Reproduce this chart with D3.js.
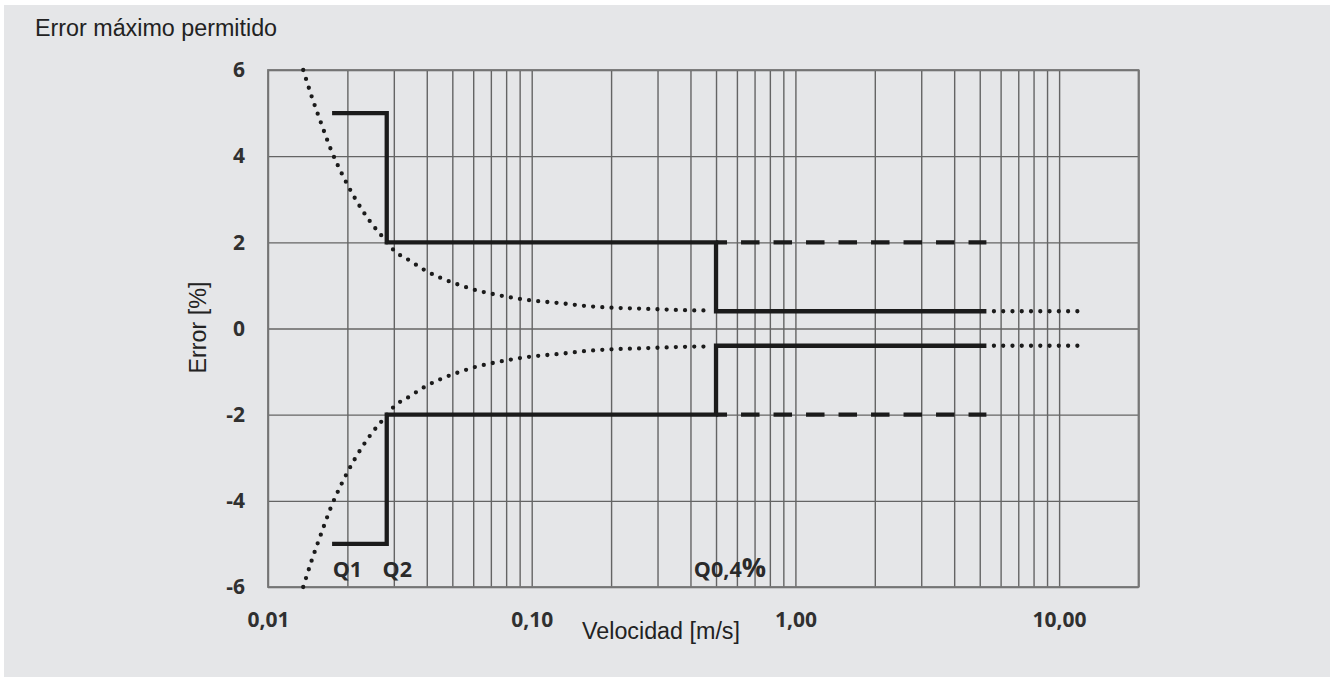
<!DOCTYPE html>
<html>
<head>
<meta charset="utf-8">
<script src="https://cdn.jsdelivr.net/npm/d3@7"></script>
<style>
  html, body { margin: 0; padding: 0; background: #ffffff; }
  svg { display: block; }
</style>
</head>
<body>
<div id="chart-area"></div>
<script>
// Data
const xTickValues = [0.01, 0.1, 1, 10]
const xTickLabels = ['0,01', '0,10', '1,00', '10,00']
const yTickValues = [-6, -4, -2, 0, 2, 4, 6]
const yTickLabels = ['-6', '-4', '-2', '0', '2', '4', '6']

// Dotted limit curve (velocity m/s, error %)
const curveV = [0.0136, 0.01465, 0.01589, 0.0173, 0.01914, 0.02138, 0.02454, 0.02725, 0.03007, 0.03459,
	0.03968, 0.04573, 0.05321, 0.06227, 0.07269, 0.0853, 0.1002, 0.1275, 0.1624, 0.2069, 0.2642, 0.3364, 0.4285, 0.4634]
const curveUpper = [6.0, 5.38, 4.77, 4.16, 3.57, 3.02, 2.46, 2.12, 1.81, 1.57,
	1.34, 1.16, 1.01, 0.88, 0.79, 0.71, 0.65, 0.59, 0.52, 0.48, 0.46, 0.435, 0.42, 0.42]
const curveLower = [-6.0, -5.38, -4.77, -4.16, -3.57, -3.02, -2.46, -2.12, -1.81, -1.57,
	-1.34, -1.16, -1.01, -0.88, -0.79, -0.71, -0.65, -0.59, -0.52, -0.48, -0.46, -0.435, -0.42, -0.42]

// Solid step limits
const stepV = [0.0175, 0.0282, 0.0282, 0.5, 0.5, 5.3]
const stepUpper = [5, 5, 2, 2, 0.4, 0.4]
const stepLower = [-5, -5, -2, -2, -0.4, -0.4]

// Dashed extension at +-2 %
const dashV = [0.5, 5.3]
const dashUpper = [2, 2]
const dashLower = [-2, -2]

// Dotted tail at +-0.4 %
const tailV = [5.66, 11.85]
const tailUpper = [0.4, 0.4]
const tailLower = [-0.4, -0.4]

// Flow point labels
const qLabels = ['Q1', 'Q2', 'Q0,4']
const qLabelV = [0.0176, 0.0272, 0.412]

const canvas = { width: 1330, height: 679 }
const plot = { left: 268, right: 1138.5, top: 70, bottom: 587 }
const boldFont = "'Open Sans', sans-serif"
const plainFont = "'Liberation Sans', Arial, sans-serif"
const ink = '#1b1b1b'

let svg = d3.select('#chart-area')
	.append('svg')
		.attr('width', canvas.width)
		.attr('height', canvas.height)

// grey panel
svg.append('rect')
	.attr('x', 4)
	.attr('y', 5)
	.attr('width', canvas.width - 4)
	.attr('height', 672)
	.attr('fill', '#e5e6e8')

// Scales
let x = d3.scaleLog()
	.domain([0.01, 20])
	.range([plot.left, plot.right])
let y = d3.scaleLinear()
	.domain([-6, 6])
	.range([plot.bottom, plot.top])

const plotH = plot.bottom - plot.top
const plotW = plot.right - plot.left

// Grid
let xGrid = svg.append('g')
	.attr('transform', `translate(0, ${plot.bottom})`)
	.call(d3.axisBottom(x).tickValues(x.ticks()).tickSize(-plotH).tickFormat(''))
xGrid.select('.domain').remove()
xGrid.selectAll('line').attr('stroke', '#646464').attr('stroke-width', 1.4)

let yGrid = svg.append('g')
	.attr('transform', `translate(${plot.left}, 0)`)
	.call(d3.axisLeft(y).tickValues(yTickValues).tickSize(-plotW).tickFormat(''))
yGrid.select('.domain').remove()
yGrid.selectAll('line').attr('stroke', '#646464').attr('stroke-width', 1.4)

// frame
svg.append('rect')
	.attr('x', plot.left)
	.attr('y', plot.top)
	.attr('width', plotW)
	.attr('height', plotH)
	.attr('fill', 'none')
	.attr('stroke', '#767676')
	.attr('stroke-width', 1.8)

// Axis labels (ticks)
let xAxis = svg.append('g')
	.attr('transform', `translate(0, ${plot.bottom})`)
	.call(d3.axisBottom(x).tickValues(xTickValues).tickSize(0).tickPadding(25)
		.tickFormat((d, i) => xTickLabels[i]))
xAxis.select('.domain').remove()
xAxis.selectAll('text')
	.attr('font-family', boldFont)
	.attr('font-weight', 'bold')
	.attr('font-size', 21)
	.attr('fill', '#303030')

let yAxis = svg.append('g')
	.attr('transform', `translate(${plot.left}, 0)`)
	.call(d3.axisLeft(y).tickValues(yTickValues).tickSize(0).tickPadding(23)
		.tickFormat((d, i) => yTickLabels[i]))
yAxis.select('.domain').remove()
yAxis.selectAll('text')
	.attr('font-family', boldFont)
	.attr('font-weight', 'bold')
	.attr('font-size', 21)
	.attr('fill', '#303030')

// Titles
svg.append('text')
	.attr('x', 35)
	.attr('y', 36)
	.attr('font-family', plainFont)
	.attr('font-size', 23.3)
	.attr('fill', '#222222')
	.text('Error máximo permitido')

svg.append('text')
	.attr('x', 661)
	.attr('y', 639)
	.attr('text-anchor', 'middle')
	.attr('font-family', plainFont)
	.attr('font-size', 23.3)
	.attr('fill', '#222222')
	.text('Velocidad [m/s]')

svg.append('text')
	.attr('transform', 'translate(206, 327.5) rotate(-90)')
	.attr('text-anchor', 'middle')
	.attr('font-family', plainFont)
	.attr('font-size', 23.3)
	.attr('fill', '#222222')
	.text('Error [%]')

// Lines
const line = d3.line()
	.x(d => x(d[0]))
	.y(d => y(d[1]))
const smooth = d3.line()
	.x(d => x(d[0]))
	.y(d => y(d[1]))
	.curve(d3.curveMonotoneX)

const zip = (a, b) => a.map((v, i) => [v, b[i]])

// dotted curves
;[curveUpper, curveLower].forEach(vals => {
	svg.append('path')
		.attr('d', smooth(zip(curveV, vals)))
		.attr('fill', 'none')
		.attr('stroke', ink)
		.attr('stroke-width', 4.3)
		.attr('stroke-linecap', 'round')
		.attr('stroke-dasharray', '0 9.2')
})

// dotted tails
;[tailUpper, tailLower].forEach(vals => {
	svg.append('path')
		.attr('d', line(zip(tailV, vals)))
		.attr('fill', 'none')
		.attr('stroke', ink)
		.attr('stroke-width', 4.3)
		.attr('stroke-linecap', 'round')
		.attr('stroke-dasharray', '0 9.27')
})

// dashed extension
;[dashUpper, dashLower].forEach(vals => {
	svg.append('path')
		.attr('d', line(zip(dashV, vals)))
		.attr('fill', 'none')
		.attr('stroke', ink)
		.attr('stroke-width', 4.3)
		.attr('stroke-dasharray', '18.5 14')
		.attr('stroke-dashoffset', 7.5)
})

// solid steps
;[stepUpper, stepLower].forEach(vals => {
	svg.append('path')
		.attr('d', line(zip(stepV, vals)))
		.attr('fill', 'none')
		.attr('stroke', ink)
		.attr('stroke-width', 4.3)
		.attr('stroke-linejoin', 'miter')
})

// Q labels
qLabels.forEach((label, i) => {
	let t = svg.append('text')
		.attr('x', x(qLabelV[i]))
		.attr('y', y(-6) - 10)
		.attr('font-family', boldFont)
		.attr('font-weight', 'bold')
		.attr('font-size', 21.5)
		.attr('fill', '#2a2a2a')
		.text(label)
	if (label === 'Q0,4') {
		t.append('tspan').attr('font-size', 27).text('%')
	}
})
</script>
</body>
</html>
